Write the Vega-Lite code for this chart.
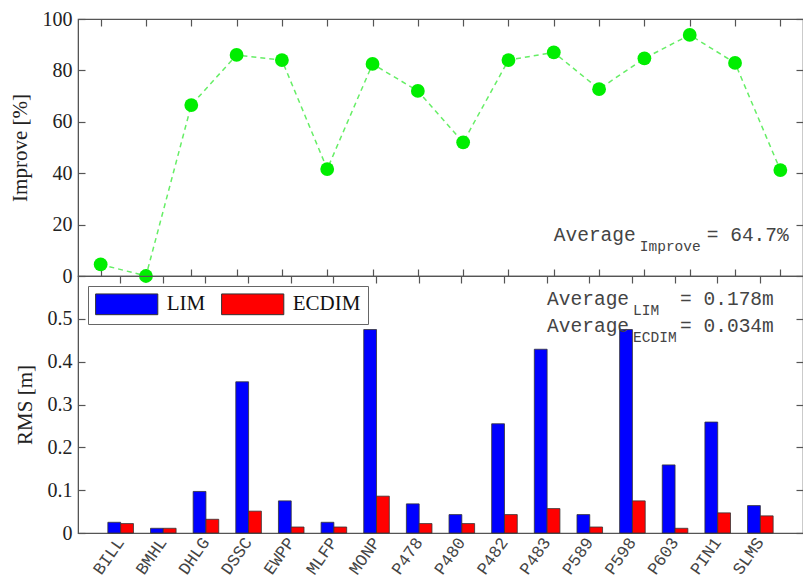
{
  "$schema": "https://vega.github.io/schema/vega-lite/v6.json",
  "autosize": "pad",
  "padding": {"left": 8, "top": 8, "right": 0, "bottom": 0},
  "bounds": "flush",
  "spacing": 0,
  "background": "white",
  "resolve": {"legend": {"color": "independent"}},
  "config": {
    "view": {"stroke": "#555", "strokeWidth": 1.2},
    "axis": {
      "domainColor": "#555", "tickColor": "#555", "tickSize": -7, "tickWidth": 1.2,
      "labelFont": "Liberation Serif", "labelFontSize": 20, "labelColor": "#222", "labelPadding": 13,
      "titleFont": "Liberation Serif", "titleFontSize": 21, "titleFontWeight": "normal", "titleColor": "#222",
      "grid": false
    }
  },
  "datasets": {
    "improve": [
      {"station": "BILL", "improve": 4.5},
      {"station": "BMHL", "improve": 0},
      {"station": "DHLG", "improve": 66.5},
      {"station": "DSSC", "improve": 86},
      {"station": "EWPP", "improve": 84},
      {"station": "MLFP", "improve": 41.6},
      {"station": "MONP", "improve": 82.5},
      {"station": "P478", "improve": 72},
      {"station": "P480", "improve": 52},
      {"station": "P482", "improve": 84},
      {"station": "P483", "improve": 87},
      {"station": "P589", "improve": 72.7},
      {"station": "P598", "improve": 84.7},
      {"station": "P603", "improve": 93.8},
      {"station": "PIN1", "improve": 82.9},
      {"station": "SLMS", "improve": 41.2}
    ],
    "rms": [
      {"station": "BILL", "series": "LIM", "rms": 0.025}, {"station": "BILL", "series": "ECDIM", "rms": 0.022},
      {"station": "BMHL", "series": "LIM", "rms": 0.011}, {"station": "BMHL", "series": "ECDIM", "rms": 0.011},
      {"station": "DHLG", "series": "LIM", "rms": 0.097}, {"station": "DHLG", "series": "ECDIM", "rms": 0.032},
      {"station": "DSSC", "series": "LIM", "rms": 0.353}, {"station": "DSSC", "series": "ECDIM", "rms": 0.051},
      {"station": "EWPP", "series": "LIM", "rms": 0.075}, {"station": "EWPP", "series": "ECDIM", "rms": 0.014},
      {"station": "MLFP", "series": "LIM", "rms": 0.025}, {"station": "MLFP", "series": "ECDIM", "rms": 0.014},
      {"station": "MONP", "series": "LIM", "rms": 0.475}, {"station": "MONP", "series": "ECDIM", "rms": 0.086},
      {"station": "P478", "series": "LIM", "rms": 0.068}, {"station": "P478", "series": "ECDIM", "rms": 0.022},
      {"station": "P480", "series": "LIM", "rms": 0.043}, {"station": "P480", "series": "ECDIM", "rms": 0.022},
      {"station": "P482", "series": "LIM", "rms": 0.255}, {"station": "P482", "series": "ECDIM", "rms": 0.043},
      {"station": "P483", "series": "LIM", "rms": 0.429}, {"station": "P483", "series": "ECDIM", "rms": 0.057},
      {"station": "P589", "series": "LIM", "rms": 0.043}, {"station": "P589", "series": "ECDIM", "rms": 0.014},
      {"station": "P598", "series": "LIM", "rms": 0.475}, {"station": "P598", "series": "ECDIM", "rms": 0.075},
      {"station": "P603", "series": "LIM", "rms": 0.159}, {"station": "P603", "series": "ECDIM", "rms": 0.011},
      {"station": "PIN1", "series": "LIM", "rms": 0.259}, {"station": "PIN1", "series": "ECDIM", "rms": 0.047},
      {"station": "SLMS", "series": "LIM", "rms": 0.064}, {"station": "SLMS", "series": "ECDIM", "rms": 0.040}
    ],
    "annotTop": [
      {"station": "P483", "y": 13.6, "head": "Average", "sub": "Improve", "tail": "= 64.7%"}
    ],
    "annotBottom": [
      {"station": "P483", "y": 0.5326, "head": "Average", "sub": "LIM", "tail": "= 0.178m"},
      {"station": "P483", "y": 0.4698, "head": "Average", "sub": "ECDIM", "tail": "= 0.034m"}
    ]
  },
  "vconcat": [
    {
      "width": 725,
      "height": 257,
      "layer": [
        {
          "data": {"name": "improve"},
          "mark": {"type": "line", "color": "#66ee66", "strokeDash": [5, 4], "strokeWidth": 1.5},
          "encoding": {
            "x": {"field": "station", "type": "nominal",
              "scale": {"domain": ["BILL","BMHL","DHLG","DSSC","EWPP","MLFP","MONP","P478","P480","P482","P483","P589","P598","P603","PIN1","SLMS"], "paddingInner": 0.4, "paddingOuter": 0.7},
              "axis": {"orient": "top", "labels": false, "title": null, "domain": false}},
            "y": {"field": "improve", "type": "quantitative", "scale": {"domain": [0, 100]},
              "axis": {"orient": "right", "labels": false, "title": null, "domain": false, "values": [0, 20, 40, 60, 80, 100]}}
          }
        },
        {
          "data": {"name": "improve"},
          "mark": {"type": "point", "filled": true, "size": 190, "color": "#00ee00", "opacity": 1},
          "encoding": {
            "x": {"field": "station", "type": "nominal",
              "scale": {"domain": ["BILL","BMHL","DHLG","DSSC","EWPP","MLFP","MONP","P478","P480","P482","P483","P589","P598","P603","PIN1","SLMS"], "paddingInner": 0.4, "paddingOuter": 0.7},
              "axis": {"orient": "bottom", "labels": false, "title": null}},
            "y": {"field": "improve", "type": "quantitative", "scale": {"domain": [0, 100]},
              "axis": {"orient": "left", "title": "Improve [%]", "values": [0, 20, 40, 60, 80, 100], "titlePadding": 12}}
          }
        },
        {
          "data": {"name": "annotTop"},
          "mark": {"type": "text", "align": "left", "baseline": "alphabetic", "font": "Liberation Mono", "fontSize": 19.5, "color": "#444"},
          "encoding": {
            "x": {"field": "station", "type": "nominal", "axis": null},
            "y": {"field": "y", "type": "quantitative", "axis": null},
            "text": {"field": "head"}
          }
        },
        {
          "data": {"name": "annotTop"},
          "mark": {"type": "text", "align": "left", "baseline": "alphabetic", "font": "Liberation Mono", "fontSize": 14.5, "color": "#444", "dx": 86, "dy": 10},
          "encoding": {
            "x": {"field": "station", "type": "nominal", "axis": null},
            "y": {"field": "y", "type": "quantitative", "axis": null},
            "text": {"field": "sub"}
          }
        },
        {
          "data": {"name": "annotTop"},
          "mark": {"type": "text", "align": "left", "baseline": "alphabetic", "font": "Liberation Mono", "fontSize": 19.5, "color": "#444", "dx": 153},
          "encoding": {
            "x": {"field": "station", "type": "nominal", "axis": null},
            "y": {"field": "y", "type": "quantitative", "axis": null},
            "text": {"field": "tail"}
          }
        }
      ],
      "resolve": {"axis": {"x": "independent", "y": "independent"}}
    },
    {
      "width": 725,
      "height": 257,
      "layer": [
        {
          "data": {"name": "rms"},
          "mark": {"type": "bar", "stroke": "#333", "strokeWidth": 0.8},
          "encoding": {
            "x": {"field": "station", "type": "nominal",
              "scale": {"domain": ["BILL","BMHL","DHLG","DSSC","EWPP","MLFP","MONP","P478","P480","P482","P483","P589","P598","P603","PIN1","SLMS"], "paddingInner": 0.4, "paddingOuter": 0.7},
              "axis": {"orient": "bottom", "title": null, "labelAngle": -55, "labelFont": "Liberation Mono", "labelFontSize": 17, "labelColor": "#444", "labelPadding": 6, "ticks": false}},
            "xOffset": {"field": "series", "type": "nominal", "scale": {"domain": ["LIM", "ECDIM"], "paddingInner": 0, "paddingOuter": 0}},
            "y": {"field": "rms", "type": "quantitative", "scale": {"domain": [0, 0.6]},
              "axis": {"orient": "left", "title": "RMS [m]", "values": [0, 0.1, 0.2, 0.3, 0.4, 0.5], "format": "~g", "titlePadding": 12}},
            "color": {"field": "series", "type": "nominal",
              "scale": {"domain": ["LIM", "ECDIM"], "range": ["#0000ff", "#ff0000"]},
              "legend": {"orient": "top-left", "offset": 10, "direction": "horizontal", "title": null,
                "symbolType": "M-3,-1H3V1H-3Z", "symbolSize": 430, "symbolOffset": 20.7, "symbolStrokeColor": "#333", "symbolStrokeWidth": 1,
                "labelFont": "Liberation Serif", "labelFontSize": 21, "labelColor": "#111", "labelOffset": 29, "columnPadding": 13,
                "strokeColor": "#666", "fillColor": "white", "padding": 7}}
          }
        },
        {
          "data": {"name": "rms"},
          "mark": {"type": "point", "opacity": 0},
          "encoding": {
            "x": {"field": "station", "type": "nominal",
              "scale": {"domain": ["BILL","BMHL","DHLG","DSSC","EWPP","MLFP","MONP","P478","P480","P482","P483","P589","P598","P603","PIN1","SLMS"], "paddingInner": 0.4, "paddingOuter": 0.7},
              "axis": {"orient": "top", "labels": false, "title": null, "domain": false}},
            "y": {"field": "rms", "type": "quantitative", "scale": {"domain": [0, 0.6]},
              "axis": {"orient": "right", "labels": false, "title": null, "domain": false, "values": [0, 0.1, 0.2, 0.3, 0.4, 0.5]}}
          }
        },
        {
          "data": {"name": "annotBottom"},
          "mark": {"type": "text", "align": "left", "baseline": "alphabetic", "font": "Liberation Mono", "fontSize": 19.5, "color": "#444"},
          "encoding": {
            "x": {"field": "station", "type": "nominal", "axis": null},
            "y": {"field": "y", "type": "quantitative", "axis": null},
            "text": {"field": "head"}
          }
        },
        {
          "data": {"name": "annotBottom"},
          "mark": {"type": "text", "align": "left", "baseline": "alphabetic", "font": "Liberation Mono", "fontSize": 14.5, "color": "#444", "dx": 86, "dy": 10},
          "encoding": {
            "x": {"field": "station", "type": "nominal", "axis": null},
            "y": {"field": "y", "type": "quantitative", "axis": null},
            "text": {"field": "sub"}
          }
        },
        {
          "data": {"name": "annotBottom"},
          "mark": {"type": "text", "align": "left", "baseline": "alphabetic", "font": "Liberation Mono", "fontSize": 19.5, "color": "#444", "dx": 133},
          "encoding": {
            "x": {"field": "station", "type": "nominal", "axis": null},
            "y": {"field": "y", "type": "quantitative", "axis": null},
            "text": {"field": "tail"}
          }
        }
      ],
      "resolve": {"axis": {"x": "independent", "y": "independent"}}
    }
  ]
}
